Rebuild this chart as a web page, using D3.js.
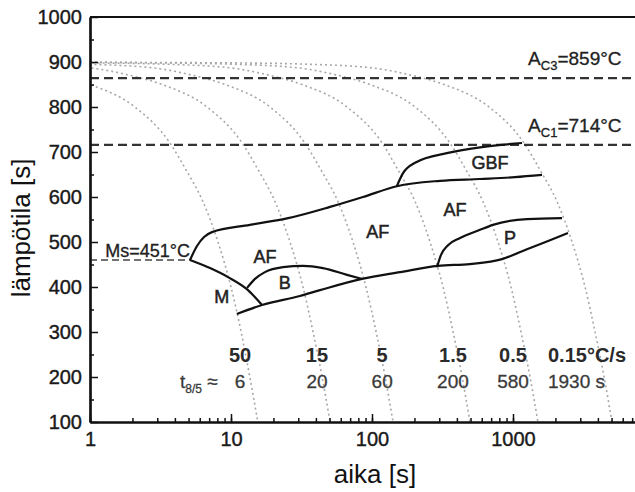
<!DOCTYPE html>
<html>
<head>
<meta charset="utf-8">
<script src="https://cdn.jsdelivr.net/npm/d3@7"></script>
<style>
  body { margin: 0; background: #fff; }
  text { font-family: "Liberation Sans", Arial, sans-serif; }
</style>
</head>
<body>
<svg id="chart" width="635" height="492"></svg>
<script>
// cooling curves, [time s, temperature °C]
const curve50 = [[0.31, 887], [0.56, 872], [1, 850], [2.08, 800], [3.69, 720], [4.8, 660], [6.32, 590], [8.09, 500], [10, 400], [11.8, 300], [13.6, 200], [15.5, 100]];
const curve15 = [[0.024, 899], [0.105, 898], [0.356, 895], [1.0, 887], [1.82, 872], [3.24, 850], [6.76, 800], [12.0, 720], [15.6, 660], [20.5, 590], [26.2, 500], [32.4, 400], [38.2, 300], [44.3, 200], [50.4, 100]];
const curve5 = [[0.067, 899], [0.29, 898], [0.99, 895], [2.8, 887], [5.1, 872], [9.06, 850], [18.9, 800], [33.4, 720], [43.5, 660], [57.3, 590], [73.3, 500], [90.6, 400], [107, 300], [124, 200], [141, 100]];
const curve1_5 = [[0.24, 899], [1.03, 898], [3.5, 895], [9.86, 887], [17.9, 872], [31.9, 850], [66.5, 800], [118, 720], [153, 660], [202, 590], [258, 500], [319, 400], [376, 300], [436, 200], [495, 100]];
const curve0_5 = [[0.72, 899], [3.13, 898], [10.6, 895], [29.9, 887], [54.5, 872], [96.8, 850], [202, 800], [357, 720], [465, 660], [612, 590], [783, 500], [968, 400], [1140, 300], [1321, 200], [1503, 100]];
const curve0_15 = [[1, 900], [2.4, 899], [10.5, 898], [35.6, 895], [100, 887], [182, 872], [324, 850], [676, 800], [1197, 720], [1556, 660], [2051, 590], [2624, 500], [3243, 400], [3819, 300], [4426, 200], [5035, 100]];

// phase boundaries
const startLine = [[5.12, 460], [5.74, 491], [6.44, 511], [7.33, 522], [13.6, 538], [25.4, 553], [50.4, 578], [86.3, 600], [150, 624], [304, 636], [583, 640], [1033, 644], [1606, 649]];
const gbfTop = [[150, 624], [166, 653], [202, 676], [346, 698], [603, 711], [1159, 720]];
const finishLine = [[11.0, 340], [16.6, 360], [30.8, 380], [42.8, 393], [84.9, 418], [158, 433], [294, 447], [495, 451], [836, 462], [1256, 484], [1830, 504], [2454, 520]];
const msBLine = [[5.12, 460], [7.1, 442], [9.52, 422], [13.2, 393], [16.6, 360]];
const bTop = [[13.0, 398], [14.8, 418], [17.4, 433], [23.4, 444], [32.4, 447], [44.9, 442], [66.5, 427], [84.9, 418]];
const pTop = [[289, 444], [308, 471], [346, 493], [421, 509], [583, 527], [721, 538], [1256, 551], [2228, 553]];

// critical temperatures (line position, label value)
const ac3 = 864, ac3Label = "859";
const ac1 = 716, ac1Label = "714";
const ms = 460, msLabel = "451", msTime = 5.12;

const phaseNames = ["AF", "B", "M", "AF", "AF", "GBF", "P"];
const phaseAt = [[17.4, 467], [24.1, 409], [8.6, 378], [110, 522], [388, 571], [688, 676], [953, 509]];

const rateLabels = ["50", "15", "5", "1.5", "0.5", "0.15°C/s"];
const t85Labels = ["6", "20", "60", "200", "580", "1930 s"];
const labelTimes = [11.6, 40.7, 118, 375, 1000, 1771];

const xTicks = [1, 10, 100, 1000];
const yTicks = [100, 200, 300, 400, 500, 600, 700, 800, 900, 1000];

const svg = d3.select("#chart");
const x = d3.scaleLog().domain([1, 10000]).range([90, 654]);
const y = d3.scaleLinear().domain([100, 1000]).range([422, 17]);

svg.append("defs").append("clipPath").attr("id", "plot")
  .append("rect").attr("x", 90).attr("y", 17).attr("width", 564).attr("height", 405);

const line = d3.line().x(d => x(d[0])).y(d => y(d[1])).curve(d3.curveMonotoneX);
const plot = svg.append("g").attr("clip-path", "url(#plot)");

// dotted cooling curves
[curve50, curve15, curve5, curve1_5, curve0_5, curve0_15].forEach(c => {
  plot.append("path").attr("d", line(c))
    .attr("fill", "none").attr("stroke", "#a8a8a8")
    .attr("stroke-width", 1.6).attr("stroke-dasharray", "2,3");
});

// dashed critical lines
[ac3, ac1].forEach(v => {
  plot.append("line").attr("x1", x(1)).attr("x2", x(10000))
    .attr("y1", y(v)).attr("y2", y(v))
    .attr("stroke", "#333").attr("stroke-width", 2.2).attr("stroke-dasharray", "9,5");
});
plot.append("line").attr("x1", x(1)).attr("x2", x(msTime))
  .attr("y1", y(ms)).attr("y2", y(ms))
  .attr("stroke", "#444").attr("stroke-width", 1.6).attr("stroke-dasharray", "7,4");

// phase boundaries
[startLine, gbfTop, finishLine, msBLine, bTop, pTop].forEach(c => {
  plot.append("path").attr("d", line(c))
    .attr("fill", "none").attr("stroke", "#111").attr("stroke-width", 2.2);
});

// axes
const xAxis = svg.append("g").attr("transform", "translate(0,422)");
xAxis.append("g").call(d3.axisBottom(x).tickValues(x.ticks()).tickSize(-4).tickSizeOuter(0).tickFormat(""));
xAxis.append("g").call(d3.axisBottom(x).tickValues(xTicks).tickSize(-8).tickSizeOuter(0).tickPadding(10).tickFormat(d3.format("d")));

const yAxis = svg.append("g").attr("transform", "translate(90,0)");
yAxis.append("g").call(d3.axisLeft(y).tickValues(d3.range(150, 1000, 100)).tickSize(-4).tickSizeOuter(0).tickFormat(""));
yAxis.append("g").call(d3.axisLeft(y).tickValues(yTicks).tickSize(-8).tickSizeOuter(0).tickPadding(8).tickFormat(d3.format("d")));

svg.selectAll(".domain").attr("stroke", "#111").attr("stroke-width", 2.2);
svg.selectAll(".tick line").attr("stroke", "#111").attr("stroke-width", 1.5);
svg.selectAll(".tick text").attr("font-size", 20).attr("fill", "#1a1a1a")
  .attr("stroke", "#1a1a1a").attr("stroke-width", 0.4)
  .attr("font-family", "'Liberation Sans', Arial, sans-serif");

// top frame line
svg.append("line").attr("x1", 90).attr("x2", 654).attr("y1", 17).attr("y2", 17)
  .attr("stroke", "#111").attr("stroke-width", 2.2);

// axis titles
svg.append("text").attr("x", 375).attr("y", 483).attr("text-anchor", "middle")
  .attr("font-size", 26).attr("fill", "#111").text("aika [s]");
svg.append("text").attr("transform", "translate(30,228) rotate(-90)").attr("text-anchor", "middle")
  .attr("font-size", 26).attr("fill", "#111").text("lämpötila [s]");

// critical temperature labels
function acLabel(v, sub, val) {
  const t = svg.append("text").attr("x", x(1280)).attr("y", y(v) - 13)
    .attr("font-size", 19).attr("fill", "#222").attr("stroke", "#222").attr("stroke-width", 0.3);
  t.append("tspan").text("A");
  t.append("tspan").attr("font-size", 13).attr("dy", 5).text(sub);
  t.append("tspan").attr("dy", -5).text("=" + val + "°C");
}
acLabel(ac3, "C3", ac3Label);
acLabel(ac1, "C1", ac1Label);

svg.append("text").attr("x", x(msTime)).attr("y", y(ms) - 3).attr("text-anchor", "end")
  .attr("font-size", 18).attr("fill", "#222").attr("stroke", "#222").attr("stroke-width", 0.3)
  .text("Ms=" + msLabel + "°C");

// phase names
svg.selectAll(".phase").data(phaseNames).enter().append("text")
  .attr("x", (d, i) => x(phaseAt[i][0]))
  .attr("y", (d, i) => y(phaseAt[i][1]) + 6)
  .attr("text-anchor", "middle").attr("font-size", 18).attr("fill", "#222")
  .attr("stroke", "#222").attr("stroke-width", 0.5)
  .text(d => d);

// cooling rate and t8/5 rows
const rowRate = y(100) - 60, rowT = y(100) - 34;
svg.selectAll(".rate").data(rateLabels).enter().append("text")
  .attr("x", (d, i) => x(labelTimes[i]))
  .attr("y", rowRate)
  .attr("text-anchor", (d, i) => i === rateLabels.length - 1 ? "start" : "middle")
  .attr("font-size", 20).attr("font-weight", "bold").attr("fill", "#2a2a2a")
  .text(d => d);
svg.selectAll(".t85").data(t85Labels).enter().append("text")
  .attr("x", (d, i) => x(labelTimes[i]))
  .attr("y", rowT)
  .attr("text-anchor", (d, i) => i === t85Labels.length - 1 ? "start" : "middle")
  .attr("font-size", 19).attr("fill", "#3a3a3a").attr("stroke", "#3a3a3a").attr("stroke-width", 0.3)
  .text(d => d);

const t85 = svg.append("text").attr("x", 180).attr("y", rowT).attr("font-size", 19)
  .attr("fill", "#3a3a3a").attr("stroke", "#3a3a3a").attr("stroke-width", 0.3);
t85.append("tspan").text("t");
t85.append("tspan").attr("font-size", 12).attr("dy", 5).text("8/5");
t85.append("tspan").attr("dy", -5).text(" ≈");
</script>
</body>
</html>
